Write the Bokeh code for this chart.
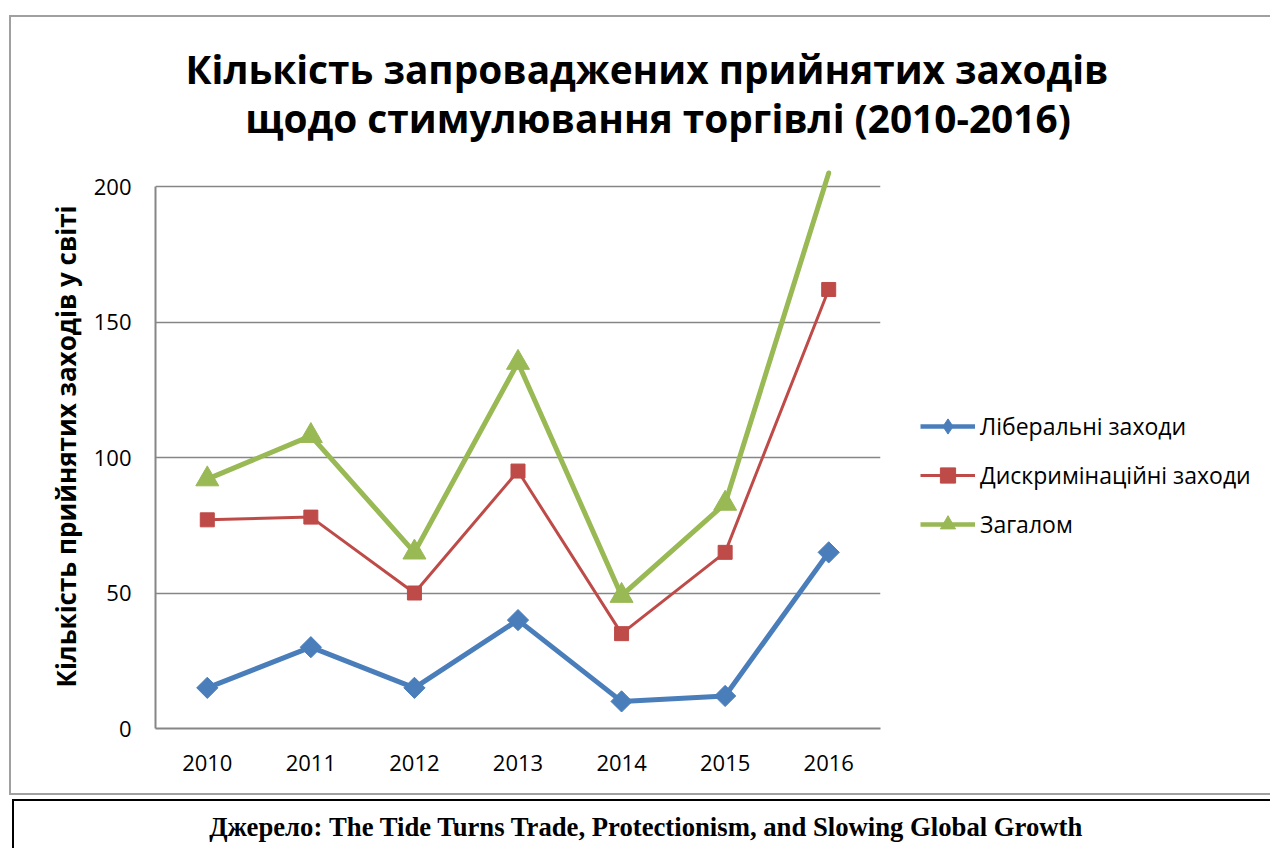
import math
from bokeh.plotting import figure
from bokeh.layouts import column, row
from bokeh.models import (FactorRange, Range1d, FixedTicker, Legend, LegendItem, Label,
                          CDSView, BooleanFilter, ColumnDataSource, Spacer)
from bokeh.embed import file_html
from bokeh.resources import INLINE

# ---- data ----
years = ["2010", "2011", "2012", "2013", "2014", "2015", "2016"]
liberal = [15, 30, 15, 40, 10, 12, 65]
discriminatory = [77, 78, 50, 95, 35, 65, 162]
total = [92, 108, 65, 135, 49, 83, 205]
y_ticks = [0, 50, 100, 150, 200]
y_axis_max = 200

series_names = ["Ліберальні заходи", "Дискримінаційні заходи", "Загалом"]
title_lines = ["Кількість запроваджених прийнятих заходів",
               "щодо стимулювання торгівлі (2010-2016)"]
y_label = "Кількість прийнятих заходів у світі"
source_text = "Джерело: The Tide Turns Trade, Protectionism, and Slowing Global Growth"

# ---- page geometry (px) ----
W, H = 1270, 848
BOX_X, BOX_Y, BOX_LW = 9, 15, 2          # grey chart border
IN_X = BOX_X + BOX_LW                     # 11
IN_Y = BOX_Y + BOX_LW                     # 17
IN_W = W - IN_X                           # 1259
IN_H = 776
TITLE_H = 145
PLOT_H = IN_H - TITLE_H
PLOT_Y = IN_Y + TITLE_H                   # 162
PLOT_W = 900 - IN_X                       # main plot canvas width
LEG_W = IN_W - PLOT_W                     # legend canvas width

GRAY_BOX = "#a0a0a0"
GRAY = "#868686"
BLUE, RED, GREEN = "#4A7EBB", "#BE4B48", "#98B954"


def strip(w, h, color):
    return Spacer(width=w, height=h, styles={"background-color": color})


def blank_fig(w, h):
    f = figure(width=w, height=h, x_range=Range1d(0, 1), y_range=Range1d(0, 1),
               output_backend="svg", toolbar_location=None, x_axis_type=None,
               y_axis_type=None, min_border=0, title=None)
    f.outline_line_color = None
    f.grid.visible = False
    f.frame_align = False
    return f


# ---- title figure ----
tf = blank_fig(IN_W, TITLE_H)
for txt, (xc, yb) in zip(title_lines, [(646.5, 68.5), (657.5, 117.5)]):
    tf.add_layout(Label(x=xc - IN_X, y=TITLE_H - (yb - IN_Y), x_units="screen", y_units="screen",
                        text=txt, text_align="center", text_baseline="alphabetic",
                        text_font="Open Sans", text_font_style="bold",
                        text_font_size="38.8px", text_color="black"))

# ---- main plot ----
FL = 155 - IN_X
FR = 880 - IN_X
FB = 728 - PLOT_Y
px_per = (728 - 186) / 200.0
FT = 164 - PLOT_Y
y_end = (FB - FT) / px_per

p = figure(width=PLOT_W, height=PLOT_H, x_range=FactorRange(*years, range_padding=0),
           y_range=Range1d(0, y_end), output_backend="svg", toolbar_location=None,
           min_border_left=FL, min_border_right=PLOT_W - FR, min_border_top=FT,
           min_border_bottom=PLOT_H - FB, title=None)
p.outline_line_color = None
p.frame_align = False

p.yaxis.ticker = FixedTicker(ticks=y_ticks)
p.yaxis.bounds = (0, y_axis_max)
p.yaxis.axis_line_color = GRAY
p.yaxis.axis_line_width = 2
p.yaxis.major_tick_line_color = None
p.yaxis.minor_tick_line_color = None
p.yaxis.major_tick_out = 0
p.yaxis.major_tick_in = 0
p.yaxis.major_label_standoff = 24
p.yaxis.major_label_text_font = "Open Sans"
p.yaxis.major_label_text_font_size = "22px"
p.yaxis.major_label_text_color = "black"
p.yaxis.axis_label = y_label
p.yaxis.axis_label_text_font = "Open Sans"
p.yaxis.axis_label_text_font_style = "bold"
p.yaxis.axis_label_text_font_size = "26px"
p.yaxis.axis_label_text_color = "black"
p.yaxis.axis_label_standoff = 7

p.xaxis.axis_line_color = GRAY
p.xaxis.axis_line_width = 2
p.xaxis.major_tick_line_color = None
p.xaxis.minor_tick_line_color = None
p.xaxis.major_tick_out = 0
p.xaxis.major_tick_in = 0
p.xaxis.major_label_standoff = 26
p.xaxis.major_label_text_font = "Open Sans"
p.xaxis.major_label_text_font_size = "22px"
p.xaxis.major_label_text_color = "black"

p.xgrid.visible = False
p.ygrid.ticker = FixedTicker(ticks=y_ticks)
p.ygrid.grid_line_color = GRAY
p.ygrid.grid_line_width = 1.5

src = ColumnDataSource(dict(year=years, liberal=liberal, discr=discriminatory, total=total))

p.line("year", "liberal", source=src, line_color=BLUE, line_width=5, line_join="round")
p.scatter("year", "liberal", source=src, marker="square", angle=math.pi / 4,
          size=15, fill_color=BLUE, line_color=BLUE)
p.line("year", "discr", source=src, line_color=RED, line_width=3, line_join="round")
p.scatter("year", "discr", source=src, marker="square", size=14,
          fill_color=RED, line_color=RED)
p.line("year", "total", source=src, line_color=GREEN, line_width=5,
       line_join="round", line_cap="round")
view = CDSView(filter=BooleanFilter([v <= y_axis_max for v in total]))
p.scatter("year", "total", source=src, view=view, marker="triangle", size=23,
          fill_color=GREEN, line_color=GREEN)

# ---- legend (own canvas to the right of the plot area) ----
lf = blank_fig(LEG_W, PLOT_H)
styles = [("liberal", BLUE, 4.5, "diamond"), ("discr", RED, 3, "square"),
          ("total", GREEN, 4.5, "triangle")]
items = []
for name, (col, c, lw, mk) in zip(series_names, styles):
    lr = lf.line(x=col, y=col, source=src, line_color=c, line_width=lw, visible=False)
    mr = lf.scatter(x=col, y=col, source=src, marker=mk, fill_color=c,
                    line_color=c, visible=False)
    items.append(LegendItem(label=name, renderers=[lr, mr]))
legend = Legend(items=items, location=(920 - 900, 185.5 + (PLOT_Y + PLOT_H - 728)),
                orientation="vertical")
legend.background_fill_alpha = 0
legend.border_line_color = None
legend.padding = 0
legend.margin = 0
legend.spacing = 11
legend.glyph_width = 55
legend.glyph_height = 38
legend.label_height = 38
legend.label_standoff = 5
legend.label_text_font = "Open Sans"
legend.label_text_font_size = "23px"
legend.label_text_color = "black"
lf.add_layout(legend)

# ---- source box ----
SRC_X, SRC_Y, SRC_LW = 12, 799, 2
SRC_W = W - SRC_X - SRC_LW
SRC_H = H - SRC_Y - SRC_LW
sf = blank_fig(SRC_W, SRC_H)
sf.add_layout(Label(x=646 - (SRC_X + SRC_LW), y=SRC_H - (826.5 - (SRC_Y + SRC_LW)),
                    x_units="screen", y_units="screen", text=source_text,
                    text_align="center", text_baseline="alphabetic",
                    text_font="Liberation Serif", text_font_style="bold",
                    text_font_size="26.7px", text_color="black"))

layout = column(
    Spacer(width=W, height=BOX_Y),
    row(Spacer(width=BOX_X, height=BOX_LW), strip(W - BOX_X, BOX_LW, GRAY_BOX)),
    row(Spacer(width=BOX_X, height=IN_H), strip(BOX_LW, IN_H, GRAY_BOX),
        column(tf, row(p, lf))),
    row(Spacer(width=BOX_X, height=BOX_LW), strip(W - BOX_X, BOX_LW, GRAY_BOX)),
    Spacer(width=W, height=SRC_Y - (BOX_Y + 2 * BOX_LW + IN_H)),
    row(Spacer(width=SRC_X, height=SRC_LW), strip(W - SRC_X, SRC_LW, "black")),
    row(Spacer(width=SRC_X, height=SRC_H), strip(SRC_LW, SRC_H, "black"), sf),
)

open("out.html", "w").write(file_html(layout, INLINE))
